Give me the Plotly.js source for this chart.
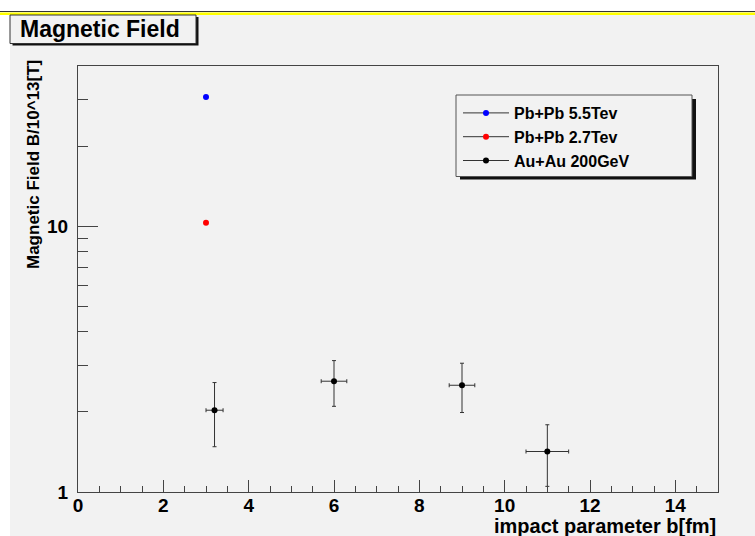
<!DOCTYPE html>
<html>
<head>
<meta charset="utf-8">
<script src="https://cdn.plot.ly/plotly-3.0.1.min.js"></script>
<style>html,body{margin:0;padding:0;background:#fff;}#chart{width:755px;height:536px;}</style>
</head>
<body>
<div id="chart"></div>
<script>
// ---- data ----
const pbpb55Name = 'Pb+Pb 5.5Tev';
const pbpb55_b = [3];
const pbpb55_B = [30.6];

const pbpb27Name = 'Pb+Pb 2.7Tev';
const pbpb27_b = [3];
const pbpb27_B = [10.3];

const auauName = 'Au+Au 200GeV';
const auau_b = [3.2, 6, 9, 11];
const auau_B = [2.03, 2.61, 2.52, 1.42];
const auau_bErr = [0.2, 0.3, 0.3, 0.5];
const auau_BErr = [0.55, 0.51, 0.53, 0.37];

const xTickVals = [0, 2, 4, 6, 8, 10, 12, 14];
const yTickVals = [1, 10];
const yTickText = ['1', '10'];
const yMinorVals = [2, 3, 4, 5, 6, 7, 8, 9, 20, 30];

const titleText = 'Magnetic Field';
const xTitle = 'impact parameter b[fm]';
const yTitle = 'Magnetic Field B/10^13[T]';

// ---- layout helpers ----
const W = 755, H = 536;
const M = {l: 78, r: 37, t: 66, b: 44};
const PW = W - M.l - M.r, PH = H - M.t - M.b;
const px = v => (v - M.l) / PW;          // pixel x -> paper x
const py = v => (H - M.b - v) / PH;      // pixel y -> paper y

const FONT = 'Liberation Sans, Arial, Helvetica, sans-serif';
const BG = '#f2f2f2';
const AX = '#444';

function rect(x0, y0, x1, y1, fill, line, lw) {
  return {type: 'rect', xref: 'paper', yref: 'paper', layer: 'above',
    x0: px(x0), x1: px(x1), y0: py(y1), y1: py(y0),
    fillcolor: fill, line: {color: line || fill, width: lw === undefined ? 0 : lw}};
}
function hline(x0, x1, y, color, w) {
  return {type: 'line', xref: 'paper', yref: 'paper', layer: 'above',
    x0: px(x0), x1: px(x1), y0: py(y), y1: py(y), line: {color: color, width: w}};
}

const errStyle = {color: '#333', thickness: 1, width: 2};

const traces = [
  {x: pbpb55_b, y: pbpb55_B, name: pbpb55Name, type: 'scatter', mode: 'lines+markers',
   legendgroup: 'a', marker: {color: '#0000ff', size: 6}, line: {color: '#333', width: 1}},
  {x: pbpb27_b, y: pbpb27_B, name: pbpb27Name, type: 'scatter', mode: 'lines+markers',
   legendgroup: 'b', marker: {color: '#ff0000', size: 6}, line: {color: '#333', width: 1}},
  {x: auau_b, y: auau_B, name: auauName, type: 'scatter', mode: 'markers', showlegend: false,
   legendgroup: 'c', marker: {color: '#000', size: 6},
   error_x: Object.assign({type: 'data', array: auau_bErr, visible: true}, errStyle),
   error_y: Object.assign({type: 'data', array: auau_BErr, visible: true}, errStyle)},
  {x: [null], y: [null], name: auauName, type: 'scatter', mode: 'lines+markers',
   legendgroup: 'c', marker: {color: '#000', size: 6}, line: {color: '#333', width: 1}}
];

const layout = {
  width: W, height: H,
  margin: M,
  paper_bgcolor: BG, plot_bgcolor: BG,
  font: {family: FONT, color: '#000', weight: 'bold'},
  showlegend: true,
  title: {text: titleText, xref: 'container', yref: 'container', x: 20 / W, xanchor: 'left',
    y: 1 - 29 / H, yanchor: 'middle', font: {family: FONT, size: 23, weight: 'bold', color: '#000'}},
  xaxis: {range: [0, 15], tickmode: 'array', tickvals: xTickVals, ticks: 'inside', ticklen: 12,
    tickcolor: AX, tickwidth: 1, showline: true, linecolor: AX, linewidth: 1, mirror: true,
    showgrid: false, zeroline: false, tickfont: {family: FONT, size: 19, weight: 'bold'},
    ticklabelstandoff: -4,
    minor: {dtick: 0.5, ticks: 'inside', ticklen: 6, tickcolor: AX, showgrid: false}},
  yaxis: {type: 'log', range: [0, Math.log10(40)], tickmode: 'array', tickvals: yTickVals, ticktext: yTickText,
    ticks: 'inside', ticklen: 20, tickcolor: AX, tickwidth: 1, showline: true, linecolor: AX, linewidth: 1,
    mirror: true, showgrid: false, zeroline: false, tickfont: {family: FONT, size: 19, weight: 'bold'},
    ticklabelstandoff: 5,
    minor: {tickmode: 'array', tickvals: yMinorVals, ticks: 'inside', ticklen: 10, tickcolor: AX, showgrid: false}},
  legend: {x: px(458), y: py(96), xanchor: 'left', yanchor: 'top', bgcolor: 'rgba(0,0,0,0)',
    borderwidth: 0, itemwidth: 46, tracegroupgap: 5, traceorder: 'normal',
    font: {family: FONT, size: 16, weight: 'bold', color: '#000'}},
  annotations: [
    {text: yTitle, xref: 'paper', yref: 'paper', x: px(33), y: py(165), xanchor: 'center', yanchor: 'middle',
     textangle: -90, showarrow: false, font: {family: FONT, size: 17, weight: 'bold', color: '#000'}},
    {text: xTitle, xref: 'paper', yref: 'paper', x: px(718), y: py(526), xanchor: 'right', yanchor: 'middle',
     showarrow: false, font: {family: FONT, size: 20, weight: 'bold', color: '#000'}}
  ],
  shapes: [
    // white page margins
    rect(0, 0, 10, H, '#ffffff'),
    rect(0, 0, W, 11, '#ffffff'),
    // top frame lines
    hline(0, W, 11.5, '#333', 1.2),
    hline(0, W, 13.8, '#ffff00', 2.5),
    // title box with shadow
    rect(12.5, 17, 198.5, 45.5, '#111'),
    rect(10, 15, 196, 43.5, BG, '#333', 1),
    // legend box with shadow
    rect(460, 99, 696, 179.5, '#111'),
    rect(456, 95, 692, 176.5, BG, '#555', 1)
  ]
};

Plotly.newPlot('chart', traces, layout, {staticPlot: true, displayModeBar: false});
</script>
</body>
</html>
